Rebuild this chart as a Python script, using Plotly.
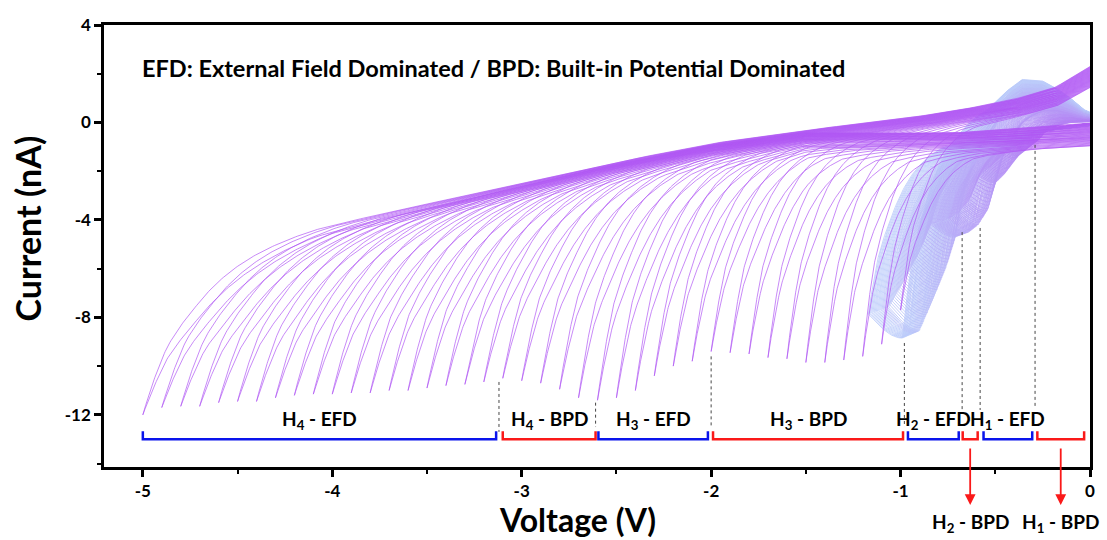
import numpy as np
import plotly.graph_objects as go

# ---------------- data ----------------
# purple sweeps: end (tip) voltage and tip current
TIP_V = [-5.0, -4.9, -4.8, -4.7, -4.6, -4.5, -4.4, -4.3, -4.2, -4.1, -4.0, -3.9, -3.8, -3.7,
         -3.6, -3.5, -3.4, -3.3, -3.2, -3.1, -3.0, -2.9, -2.8, -2.7, -2.6, -2.5, -2.4, -2.3,
         -2.2, -2.1, -2.0, -1.9, -1.8, -1.7, -1.6, -1.5, -1.4, -1.3, -1.2, -1.1, -1.0]
TIP_I = [-12.0, -11.7, -11.65, -11.65, -11.5, -11.45, -11.45, -11.3, -11.2, -11.15, -11.15,
         -11.1, -11.1, -11.0, -11.0, -10.9, -10.8, -10.75, -10.65, -10.5, -10.6, -10.7,
         -10.95, -11.3, -11.4, -11.3, -11.0, -10.4, -10.0, -9.8, -9.4, -9.45, -9.5, -9.65,
         -9.7, -9.85, -9.85, -9.75, -9.6, -9.1, -7.7]

# common baseline of the sweeps (upper = return branch, lower = outgoing branch)
BASE_V = [-5.0, -4.5, -4.0, -3.5, -3.0, -2.5, -2.0, -1.5, -1.0, -0.7, -0.4, -0.18, 0.0]
BASE_TOP = [-5.6, -4.8, -4.0, -3.25, -2.45, -1.6, -0.85, -0.3, 0.15, 0.5, 0.95, 1.46, 2.3]
BASE_LOW = [-5.6, -4.8, -4.0, -3.25, -2.45, -1.6, -0.85, -0.35, -0.4, -0.38, -0.25, -0.1, 0.0]

# shape of the outermost (-5 V) sweep near its tip: distance from tip (V) vs. fraction of drop
LOOP_DV = [0.0, 0.13, 0.28, 0.56, 0.91, 1.5, 3.0, 5.0]
LOOP_G = [1.0, 0.67, 0.47, 0.22, 0.0875, 0.04, 0.012, 0.004]

# dense (light blue) sweeps: sweep schedule and lower boundary of the band
BLUE_START, BLUE_STOP, BLUE_STEP = -1.17, -0.32, 0.006
BLUE_BOTTOM_V = [-1.08, -0.99, -0.90, -0.83, -0.76, -0.71, -0.64, -0.59, -0.54, -0.50,
                 -0.45, -0.38, -0.30, -0.25]
BLUE_BOTTOM_I = [-8.6, -8.85, -8.55, -7.3, -5.95, -4.7, -4.5, -4.2, -3.6, -2.5,
                 -2.1, -1.4, -0.9, -0.6]
BUMP_V = [-1.2, -0.9, -0.7, -0.55, -0.45, -0.36, -0.25, -0.18, -0.1, -0.04, 0.0]
BUMP_I = [-0.1, 0.15, 0.45, 0.85, 1.5, 1.96, 1.85, 1.55, 1.1, 0.65, 0.5]

# region dividers (dotted) : voltage, top current, bottom current
DIV_V = [-3.12, -2.61, -2.0, -0.98, -0.675, -0.58, -0.29]
DIV_TOP = [-10.65, -11.5, -9.6, -9.05, -4.5, -4.33, -0.92]
DIV_BOT = [-12.7, -12.5, -12.5, -12.5, -11.8, -11.8, -11.7]

# brackets
BR_LABELS = ["H<sub>4</sub> - EFD", "H<sub>4</sub> - BPD", "H<sub>3</sub> - EFD",
             "H<sub>3</sub> - BPD", "H<sub>2</sub> - EFD", "H<sub>2</sub> - BPD",
             "H<sub>1</sub> - EFD", "H<sub>1</sub> - BPD"]
BR_START = [-5.0, -3.10, -2.595, -1.99, -0.961, -0.672, -0.562, -0.278]
BR_END = [-3.135, -2.61, -2.017, -0.987, -0.693, -0.593, -0.305, -0.031]
BR_KIND = ["EFD", "BPD", "EFD", "BPD", "EFD", "BPD", "EFD", "BPD"]
BR_BELOW = [False, False, False, False, False, True, False, True]

X_TICKS = [-5, -4, -3, -2, -1, 0]
X_TICK_TEXT = ["-5", "-4", "-3", "-2", "-1", "0"]
Y_TICKS = [4, 0, -4, -8, -12]
Y_TICK_TEXT = ["4", "0", "-4", "-8", "-12"]

# ---------------- drawing helpers ----------------
LOG_G = np.log(LOOP_G)


def drop_profile(dv, w):
    return np.exp(np.interp(dv / w, LOOP_DV, LOG_G))


def width_for(v):
    return (0.11 + 0.054 * abs(v)) / 0.38


fig = go.Figure()

# ---- blue dense sweeps ----
blue_ends = np.arange(BLUE_START, BLUE_STOP + 1e-9, BLUE_STEP)
nb = len(blue_ends)
n_groups = 12
groups = [([], []) for _ in range(n_groups)]
c0 = np.array([186, 202, 250])
c1 = np.array([180, 130, 244])
for j, ve in enumerate(blue_ends):
    frac = j / (nb - 1)
    vm = ve * (0.99 / 1.17)
    im = float(np.interp(vm, BLUE_BOTTOM_V, BLUE_BOTTOM_I))
    ie = im * (7.86 / 8.85)
    w = width_for(vm)
    s = np.linspace(0, 1, 200) ** 2
    vf = ve + (-ve) * s
    bl = np.interp(vf, BASE_V, BASE_LOW)
    f = bl + (ie - bl[0]) * drop_profile(vf - ve, w)
    t = np.linspace(0, 1, 30)
    vt = ve + (vm - ve) * t
    it = ie + (im - ie) * np.sin(np.pi * t / 2)
    vr = vm + (-vm) * s
    blr = np.interp(vr, BASE_V, BASE_LOW)
    sj = 1.0 - 0.8 * frac
    R = blr + sj * (np.interp(vr, BUMP_V, BUMP_I) - blr)
    r = R + (im - R[0]) * drop_profile(vr - vm, w) ** 1.2
    xs = np.concatenate([vf[::-1], vt[1:], vr[1:], [np.nan]])
    ys = np.concatenate([f[::-1], it[1:], r[1:], [np.nan]])
    gi = min(int(frac * n_groups), n_groups - 1)
    groups[gi][0].append(xs)
    groups[gi][1].append(ys)

for gi, (gx, gy) in enumerate(groups):
    if not gx:
        continue
    col = c0 + (c1 - c0) * (gi / (n_groups - 1))
    fig.add_trace(go.Scatter(
        x=np.concatenate(gx), y=np.concatenate(gy), mode="lines",
        line=dict(color="rgb(%d,%d,%d)" % tuple(col.astype(int)), width=0.8),
        hoverinfo="skip", showlegend=False, connectgaps=False))

# ---- purple sweeps ----
px, py = [], []
for vk, ik in zip(TIP_V, TIP_I):
    w = width_for(vk)
    off = -0.6 * (1 - abs(vk) / 5.0)
    s = np.linspace(0, 1, 320) ** 2
    v = vk + (-vk) * s
    spread = np.interp(v, [-5.0, -0.7, 0.0], [1.0, 1.0, 1.7])
    bl = np.interp(v, BASE_V, BASE_LOW) + off * spread
    bt = np.interp(v, BASE_V, BASE_TOP) + off * spread
    g = drop_profile(v - vk, w)
    fwd = bl + (ik - bl[0]) * g
    rev = bt + (ik - bt[0]) * g ** 1.3
    px.append(np.concatenate([v[::-1], v[1:], [np.nan]]))
    py.append(np.concatenate([fwd[::-1], rev[1:], [np.nan]]))
fig.add_trace(go.Scatter(
    x=np.concatenate(px), y=np.concatenate(py), mode="lines",
    line=dict(color="rgb(176,88,244)", width=0.7),
    hoverinfo="skip", showlegend=False, connectgaps=False))

# ---- dotted dividers ----
dx, dy = [], []
for v, a, b in zip(DIV_V, DIV_TOP, DIV_BOT):
    dx += [v, v, None]
    dy += [a, b, None]
fig.add_trace(go.Scatter(x=dx, y=dy, mode="lines",
                         line=dict(color="rgb(70,70,70)", width=1, dash="dot"),
                         hoverinfo="skip", showlegend=False))

# ---- brackets ----
BR_HI, BR_LO = -12.67, -13.0
for kind, col in (("EFD", "rgb(10,20,235)"), ("BPD", "rgb(250,25,25)")):
    bx, by = [], []
    for a, b, k in zip(BR_START, BR_END, BR_KIND):
        if k != kind:
            continue
        bx += [a, a, b, b, None]
        by += [BR_HI, BR_LO, BR_LO, BR_HI, None]
    fig.add_trace(go.Scatter(x=bx, y=by, mode="lines",
                             line=dict(color=col, width=2.5),
                             hoverinfo="skip", showlegend=False))

FONT = "Lato"
annotations = []
for lab, a, b, below in zip(BR_LABELS, BR_START, BR_END, BR_BELOW):
    c = (a + b) / 2
    if not below:
        annotations.append(dict(x=c, y=-12.2, xref="x", yref="y", text=lab,
                                showarrow=False, xanchor="center", yanchor="middle",
                                font=dict(family=FONT, size=19, color="black", weight="bold")))
    else:
        annotations.append(dict(x=c, y=-0.086, xref="x", yref="paper", text="",
                                showarrow=True, ax=0, ay=-58, arrowhead=2, arrowsize=1.2,
                                arrowwidth=1.8, arrowcolor="rgb(250,25,25)"))
        annotations.append(dict(x=c, y=-0.127, xref="x", yref="paper", text=lab,
                                showarrow=False, xanchor="center", yanchor="middle",
                                font=dict(family=FONT, size=19, color="black", weight="bold")))

annotations.append(dict(x=0.0363, y=0.903, xref="paper", yref="paper",
                        text="EFD: External Field Dominated / BPD: Built-in Potential Dominated",
                        showarrow=False, xanchor="left", yanchor="middle",
                        font=dict(family=FONT, size=23.5, color="black", weight="bold")))
annotations.append(dict(x=0.48, y=-0.118, xref="paper", yref="paper", text="Voltage (V)",
                        showarrow=False, xanchor="center", yanchor="middle",
                        font=dict(family=FONT, size=32, color="black", weight="bold")))
annotations.append(dict(x=-0.078, y=0.54, xref="paper", yref="paper", text="Current (nA)",
                        showarrow=False, xanchor="center", yanchor="middle", textangle=-90,
                        font=dict(family=FONT, size=34, color="black", weight="bold")))

axis_common = dict(showline=True, linewidth=2.5, linecolor="black", mirror=True,
                   ticks="outside", ticklen=7, tickwidth=2.5, tickcolor="black",
                   showgrid=False, zeroline=False,
                   tickfont=dict(family=FONT, size=17, color="black", weight="bold"))

fig.update_layout(
    width=1107, height=540,
    margin=dict(l=104, r=12, t=25, b=73),
    paper_bgcolor="white", plot_bgcolor="white",
    xaxis=dict(range=[-5.205, 0], tickmode="array", tickvals=X_TICKS, ticktext=X_TICK_TEXT,
               minor=dict(tickmode="linear", tick0=0, dtick=0.5, ticks="outside",
                          ticklen=4, tickwidth=2, tickcolor="black"),
               **axis_common),
    yaxis=dict(range=[-14.14, 4], tickmode="array", tickvals=Y_TICKS, ticktext=Y_TICK_TEXT,
               minor=dict(tickmode="linear", tick0=0, dtick=2, ticks="outside",
                          ticklen=4, tickwidth=2, tickcolor="black"),
               **axis_common),
    annotations=annotations,
    showlegend=False,
)

fig.write_html("out.html")
